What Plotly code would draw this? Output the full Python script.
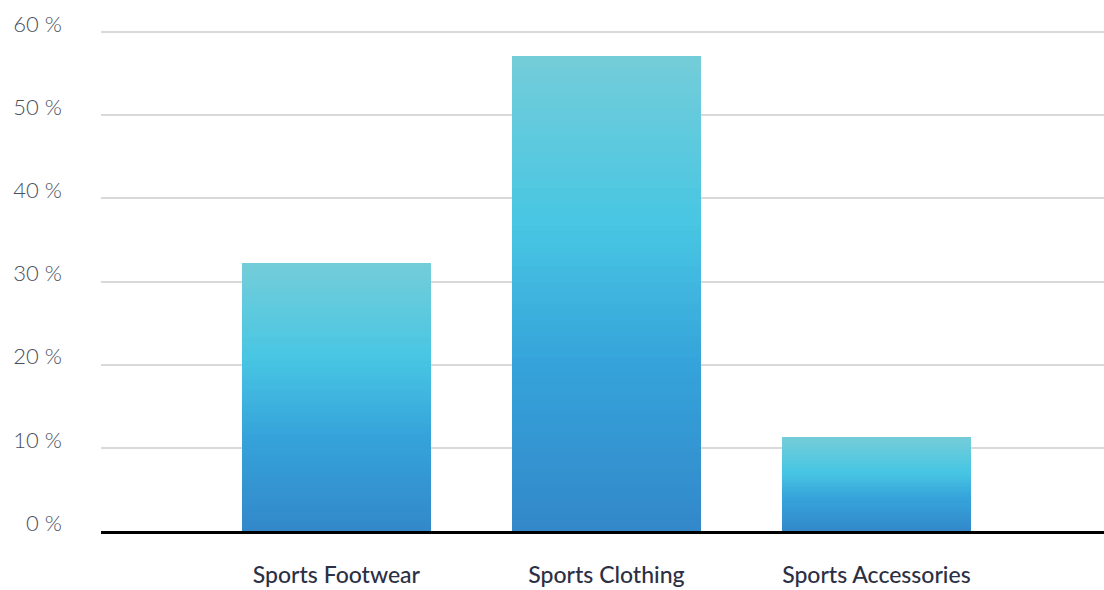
import plotly.graph_objects as go

categories = ["Sports Footwear", "Sports Clothing", "Sports Accessories"]
shares = [32.2, 57.1, 11.2]
y_ticks = [0, 10, 20, 30, 40, 50, 60]
y_tick_labels = ["0 %", "10 %", "20 %", "30 %", "40 %", "50 %", "60 %"]

# gradient stops (fraction of bar height from bottom -> rgb)
stops = [(0.0, (51, 136, 201)), (0.35, (53, 163, 218)), (0.65, (72, 198, 227)), (1.0, (116, 205, 217))]


def grad(t):
    for (t0, c0), (t1, c1) in zip(stops[:-1], stops[1:]):
        if t <= t1:
            f = (t - t0) / (t1 - t0) if t1 > t0 else 0
            return "rgb(%d,%d,%d)" % tuple(round(a + (b - a) * f) for a, b in zip(c0, c1))
    return "rgb(%d,%d,%d)" % stops[-1][1]


N = 90
fig = go.Figure()
x_idx = list(range(len(categories)))
for k in range(N):
    t = (k + 0.5) / N
    fig.add_trace(go.Bar(
        x=x_idx, y=[v / N for v in shares],
        width=0.70,
        marker=dict(color=grad(t), line=dict(width=0)),
        showlegend=False, hoverinfo="skip",
    ))

fig.update_layout(
    barmode="stack",
    width=1104, height=590,
    margin=dict(l=101, r=0, t=28, b=59),
    paper_bgcolor="white", plot_bgcolor="white",
    font=dict(family="Lato", size=21),
    bargap=0,
)
fig.update_xaxes(
    range=[-0.872, 2.843],
    tickvals=x_idx, ticktext=categories,
    showgrid=False, zeroline=False,
    showline=True, linecolor="black", linewidth=3,
    ticks="", tickfont=dict(color="#2b3044", size=23, weight=500),
    ticklabelstandoff=21,
)
fig.update_yaxes(
    range=[0, 60.5],
    tickvals=y_ticks, ticktext=y_tick_labels,
    showgrid=True, gridcolor="#d9d9d9", gridwidth=1.5,
    zeroline=False, showline=False, ticks="",
    tickfont=dict(color="#4a505c", size=22, weight=300),
    ticklabelstandoff=38, ticklabelshift=-8,
)
fig.write_html("out.html", config={"displayModeBar": False},
               post_script="document.body.style.margin='0';document.body.style.overflow='hidden';")
